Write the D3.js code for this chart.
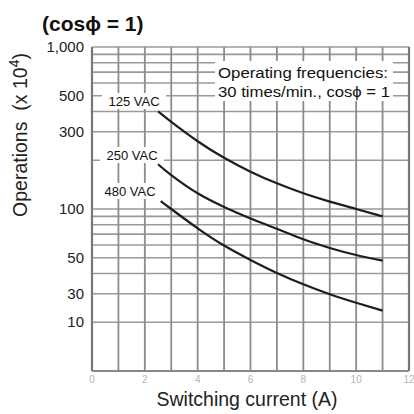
<!DOCTYPE html>
<html>
<head>
<meta charset="utf-8">
<script src="https://cdn.jsdelivr.net/npm/d3@7"></script>
<style>
  body { margin: 0; background: #fff; }
  svg { font-family: "Liberation Sans", Arial, sans-serif; }
</style>
</head>
<body>
<svg width="414" height="414"></svg>
<script>
// current (A) vs operations (x 10^4)
var curr125 = [2.5, 3, 4, 5, 6, 7, 8, 9, 10, 11];
var ops125 = [400, 345, 262, 207, 170, 144, 125, 111, 100, 90];
var curr250 = [2.5, 3, 4, 5, 6, 7, 8, 9, 10, 11];
var ops250 = [189, 162, 125, 103, 87.5, 75.5, 65, 57.5, 52, 48];
var curr480 = [2.6, 3, 4, 5, 6, 7, 8, 9, 10, 11];
var ops480 = [112, 100, 76, 59.5, 48.5, 40.3, 34.3, 29.8, 26.4, 23.6];
var seriesNames = ["125 VAC", "250 VAC", "480 VAC"];

var yTickVals = [1000, 500, 300, 100, 50, 30, 20];
var yTickText = ["1,000", "500", "300", "100", "50", "30", "10"];
var xTickVals = [0, 2, 4, 6, 8, 10, 12];

var svg = d3.select("svg"),
    plotL = 92, plotR = 409, plotT = 47, plotB = 371;

var x = d3.scaleLinear().domain([0, 12]).range([plotL, plotR]);
var y = d3.scaleLog().domain([10, 1000]).range([plotB, plotT]);

var g = svg.append("g");

// grid
g.selectAll(".hg")
    .data(y.ticks())
    .enter().append("line")
    .attr("x1", plotL).attr("x2", plotR)
    .attr("y1", function(d) { return y(d); })
    .attr("y2", function(d) { return y(d); })
    .attr("stroke", "#9a9a9a")
    .attr("stroke-width", 1.6);

g.selectAll(".vg")
    .data(d3.range(0, 13))
    .enter().append("line")
    .attr("y1", plotT).attr("y2", plotB)
    .attr("x1", function(d) { return x(d); })
    .attr("x2", function(d) { return x(d); })
    .attr("stroke", "#8c8c8c")
    .attr("stroke-width", 1.8);

// frame
g.append("line").attr("x1", plotL).attr("x2", plotL).attr("y1", plotT).attr("y2", plotB)
    .attr("stroke", "#777").attr("stroke-width", 2.2);
g.append("line").attr("x1", plotR).attr("x2", plotR).attr("y1", plotT).attr("y2", plotB)
    .attr("stroke", "#777").attr("stroke-width", 2.2);
g.append("line").attr("x1", plotL).attr("x2", plotR).attr("y1", plotB).attr("y2", plotB)
    .attr("stroke", "#888").attr("stroke-width", 2);

// x tick labels (faint)
g.selectAll(".xt")
    .data(xTickVals)
    .enter().append("text")
    .attr("x", function(d) { return x(d); })
    .attr("y", plotB + 12)
    .attr("text-anchor", "middle")
    .attr("font-size", 10)
    .attr("fill", "#b5b5b5")
    .text(function(d) { return d; });

// y tick labels
g.selectAll(".yt")
    .data(yTickVals)
    .enter().append("text")
    .attr("x", 84)
    .attr("y", function(d) { return y(d); })
    .attr("dy", "0.35em")
    .attr("text-anchor", "end")
    .attr("font-size", 15)
    .attr("fill", "#222")
    .text(function(d, i) { return yTickText[i]; });

// curves
var line = d3.line()
    .x(function(d) { return x(d[0]); })
    .y(function(d) { return y(d[1]); })
    .curve(d3.curveNatural);

var series = [
    d3.zip(curr125, ops125),
    d3.zip(curr250, ops250),
    d3.zip(curr480, ops480)
];

g.selectAll(".curve")
    .data(series)
    .enter().append("path")
    .attr("d", line)
    .attr("fill", "none")
    .attr("stroke", "#1e1e1e")
    .attr("stroke-width", 2.2);

// series labels with white backing
var labelPos = [[134, 101], [132, 155], [130, 191]];
seriesNames.forEach(function(name, i) {
    var lg = g.append("g").attr("transform", "translate(" + labelPos[i][0] + "," + labelPos[i][1] + ")");
    lg.append("rect").attr("x", -32).attr("y", -8).attr("width", 64).attr("height", 16).attr("fill", "#fff");
    lg.append("text").attr("text-anchor", "middle").attr("dy", "0.35em")
        .attr("font-size", 13).attr("fill", "#111").text(name);
});

// note box
g.append("rect").attr("x", 215).attr("y", 61).attr("width", 178).attr("height", 40).attr("fill", "#fff");
g.append("text").attr("x", 218).attr("y", 78).attr("font-size", 15.5).attr("fill", "#111")
    .attr("textLength", 170).attr("lengthAdjust", "spacingAndGlyphs")
    .text("Operating frequencies:");
g.append("text").attr("x", 218).attr("y", 97).attr("font-size", 15.5).attr("fill", "#111")
    .attr("textLength", 172).attr("lengthAdjust", "spacingAndGlyphs")
    .text("30 times/min., cos\u03D5 = 1");

// title
svg.append("text").attr("x", 42).attr("y", 31)
    .attr("font-size", 21).attr("font-weight", "bold").attr("fill", "#111")
    .text("(cos\u03D5 = 1)");

// axis titles
var yt = svg.append("text")
    .attr("transform", "translate(27,135) rotate(-90)")
    .attr("text-anchor", "middle")
    .attr("font-size", 19.5)
    .attr("fill", "#222");
yt.append("tspan").text("Operations\u00A0\u00A0(x 10");
yt.append("tspan").attr("dy", -8).attr("font-size", 14).text("4");
yt.append("tspan").attr("dy", 8).text(")");

svg.append("text")
    .attr("x", 247).attr("y", 406)
    .attr("text-anchor", "middle")
    .attr("font-size", 19.5)
    .attr("fill", "#222")
    .text("Switching current (A)");
</script>
</body>
</html>
